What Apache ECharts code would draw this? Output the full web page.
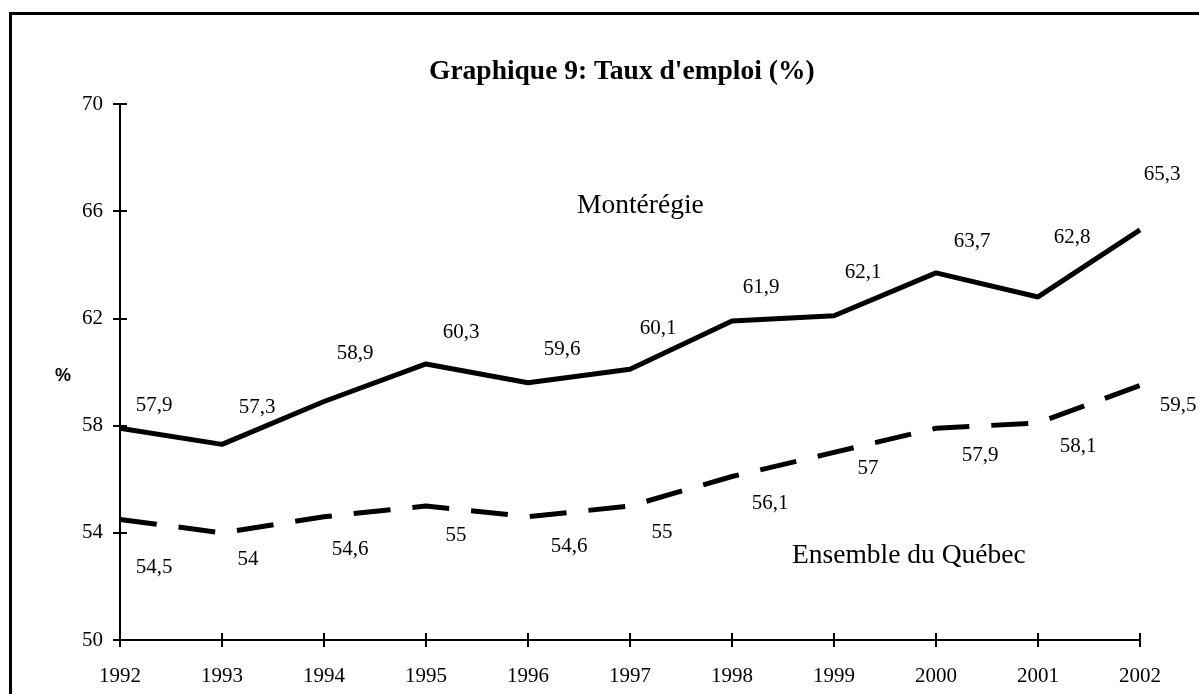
<!DOCTYPE html>
<html>
<head>
<meta charset="utf-8">
<script src="https://cdn.jsdelivr.net/npm/echarts@6/dist/echarts.min.js"></script>
<style>
  html, body { margin: 0; padding: 0; background: #fff; }
  #chart { width: 1199px; height: 694px; }
</style>
</head>
<body>
<div id="chart"></div>
<script>
// données
var years = ['1992', '1993', '1994', '1995', '1996', '1997', '1998', '1999', '2000', '2001', '2002'];
var monteregie = [57.9, 57.3, 58.9, 60.3, 59.6, 60.1, 61.9, 62.1, 63.7, 62.8, 65.3];
var quebec = [54.5, 54.0, 54.6, 55.0, 54.6, 55.0, 56.1, 57.0, 57.9, 58.1, 59.5];

// décalage des étiquettes (comme dans le graphique Excel)
var monteregieLabelOffsets = [[34, -23], [35, -37], [31, -48], [35, -31], [34, -33], [28, -41], [29, -34], [29, -43], [36, -31], [34, -59], [22, -55]];
var quebecLabelOffsets = [[34, 48], [26, 27], [26, 33], [30, 29], [41, 30], [32, 26], [38, 27], [34, 16], [44, 27], [40, 24], [38, 20]];

var serif = '"Liberation Serif", "Times New Roman", serif';

function withLabels(values, offsets) {
	return values.map(function (v, i) {
		return {
			value: v,
			label: { offset: offsets[i] }
		};
	});
}

var chart = echarts.init(document.getElementById('chart'));

var labelStyle = {
	show: true,
	position: 'inside',
	fontFamily: serif,
	fontSize: 21,
	color: '#000',
	formatter: function (p) {
		return String(p.value).replace('.', ',');
	}
};

var xAxisBase = {
	type: 'category',
	data: years,
	boundaryGap: false,
	position: 'bottom',
	axisLine: { lineStyle: { color: '#000', width: 2 } },
	splitLine: { show: false }
};

var yAxisBase = {
	type: 'value',
	min: 50,
	max: 70,
	interval: 4,
	axisLine: { show: true, lineStyle: { color: '#000', width: 2 } },
	splitLine: { show: false }
};

var option = {
	backgroundColor: '#fff',
	animation: false,
	title: {
		text: "Graphique 9: Taux d'emploi (%)",
		left: 424,
		top: 53,
		textStyle: { fontFamily: serif, fontWeight: 'bold', fontSize: 27.5, color: '#000' }
	},
	grid: { left: 120, right: 59, top: 104, bottom: 54, containLabel: false },
	xAxis: [
		Object.assign({}, xAxisBase, {
			axisTick: { show: true, inside: false, length: 7, lineStyle: { color: '#000', width: 2 } },
			axisLabel: { fontFamily: serif, fontSize: 21, color: '#000', margin: 26 }
		}),
		Object.assign({}, xAxisBase, {
			axisTick: { show: true, inside: true, length: 7, lineStyle: { color: '#000', width: 2 } },
			axisLabel: { show: false }
		})
	],
	yAxis: [
		Object.assign({}, yAxisBase, {
			axisTick: { show: true, inside: false, length: 7, lineStyle: { color: '#000', width: 2 } },
			axisLabel: { fontFamily: serif, fontSize: 21, color: '#000', margin: 17 }
		}),
		Object.assign({}, yAxisBase, {
			position: 'left',
			axisTick: { show: true, inside: true, length: 7, lineStyle: { color: '#000', width: 2 } },
			axisLabel: { show: false }
		})
	],
	series: [
		{
			name: 'Montérégie',
			type: 'line',
			data: withLabels(monteregie, monteregieLabelOffsets),
			symbol: 'circle',
			symbolSize: 0.1,
			itemStyle: { color: '#000' },
			lineStyle: { color: '#000', width: 5, type: 'solid' },
			label: labelStyle
		},
		{
			name: 'Ensemble du Québec',
			type: 'line',
			data: withLabels(quebec, quebecLabelOffsets),
			symbol: 'circle',
			symbolSize: 0.1,
			itemStyle: { color: '#000' },
			lineStyle: { color: '#000', width: 5, type: [37, 22] },
			label: labelStyle
		}
	],
	graphic: [
		{
			type: 'rect',
			left: 8,
			top: 11,
			shape: { width: 1215, height: 710 },
			style: { fill: null, stroke: '#000', lineWidth: 3 },
			silent: true
		},
		{
			type: 'text',
			left: 55,
			top: 367,
			style: { text: '%', fontFamily: '"Liberation Sans", Arial, sans-serif', fontWeight: 'bold', fontSize: 18, fill: '#000' }
		},
		{
			type: 'text',
			left: 577,
			top: 192,
			style: { text: 'Montérégie', fontFamily: serif, fontSize: 27.5, fill: '#000' }
		},
		{
			type: 'text',
			left: 792,
			top: 542,
			style: { text: 'Ensemble du Québec', fontFamily: serif, fontSize: 27.5, fill: '#000' }
		}
	]
};

chart.setOption(option);
</script>
</body>
</html>
